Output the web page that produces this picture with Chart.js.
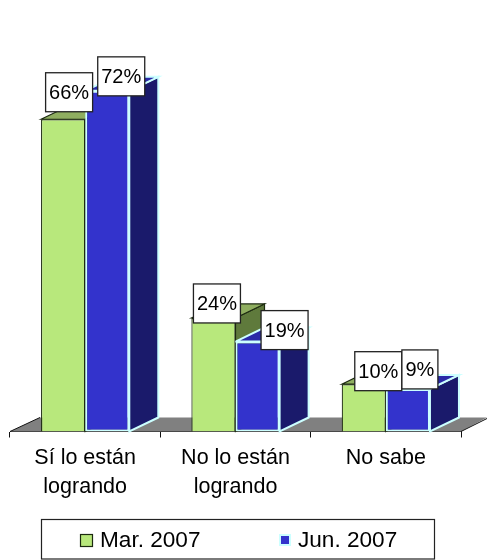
<!DOCTYPE html>
<html lang="es">
<head>
    <meta charset="UTF-8">
    <title>Sí lo están logrando</title>
    <style>
        body { margin: 0; background: white; }
        canvas { display: block; }
    </style>
</head>
<body>
    <canvas id="chart" width="487" height="560"></canvas>
    <script src="https://cdn.jsdelivr.net/npm/chart.js"></script>
    <script>
        const categories = [['Sí lo están', 'logrando'], ['No lo están', 'logrando'], ['No sabe']];
        const seriesNames = ['Mar. 2007', 'Jun. 2007'];
        const marValues = [66, 24, 10];
        const junValues = [72, 19, 9];

        const FONT = '"Liberation Sans", Arial, sans-serif';
        const DEPTH_X = 29;
        const DEPTH_Y = 14;

        // colours of each series: front, top, side, edge
        const faces = [
            { front: '#b8e87c', top: '#8fae60', side: '#5f7a3c', edge: '#1c2a10' },
            { front: '#3333cc', top: '#2a2aa8', side: '#1a1a6b', edge: '#ccffff' }
        ];

        // where each label box sits relative to the top centre of its bar
        const labelShift = [
            [[6, -27], [3.5, -14.5], [14.5, -13]],
            [[14, -14.5], [27, -11.5], [12, -19.5]]
        ];

        function poly(ctx, pts, fill, stroke, lw) {
            ctx.beginPath();
            pts.forEach((p, i) => i ? ctx.lineTo(p[0], p[1]) : ctx.moveTo(p[0], p[1]));
            ctx.closePath();
            ctx.fillStyle = fill;
            ctx.fill();
            if (stroke) {
                ctx.strokeStyle = stroke;
                ctx.lineWidth = lw;
                ctx.stroke();
            }
        }

        const depthPlugin = {
            id: 'depth',
            beforeDatasetsDraw(chart) {
                const ctx = chart.ctx;
                const x = chart.scales.x;
                const base = chart.scales.y.getPixelForValue(0);
                ctx.save();
                // floor
                poly(ctx, [[x.left, base], [x.left + 30, base - 14], [487, base - 14], [x.right, base]], '#808080');
                ctx.strokeStyle = '#111';
                ctx.lineWidth = 1;
                ctx.beginPath();
                ctx.moveTo(x.left + 30, base - 14);
                ctx.lineTo(x.left, base);
                ctx.moveTo(x.right, base);
                ctx.lineTo(487, base - 13);
                ctx.stroke();
                // top and side of every bar
                chart.data.datasets.forEach((ds, i) => {
                    const f = faces[i];
                    const lw = i ? 2 : 1.2;
                    chart.getDatasetMeta(i).data.forEach(bar => {
                        const l = bar.x - bar.width / 2, r = bar.x + bar.width / 2;
                        poly(ctx, [[r, bar.y], [r + DEPTH_X, bar.y - DEPTH_Y], [r + DEPTH_X, bar.base - DEPTH_Y], [r, bar.base]], f.side, f.edge, lw);
                        poly(ctx, [[l, bar.y], [l + DEPTH_X, bar.y - DEPTH_Y], [r + DEPTH_X, bar.y - DEPTH_Y], [r, bar.y]], f.top, f.edge, lw);
                    });
                });
                ctx.restore();
            },
            afterDatasetsDraw(chart) {
                const ctx = chart.ctx;
                ctx.save();
                ctx.font = '20px ' + FONT;
                ctx.textAlign = 'center';
                ctx.textBaseline = 'middle';
                chart.data.datasets.forEach((ds, i) => {
                    chart.getDatasetMeta(i).data.forEach((bar, j) => {
                        const text = ds.data[j] + '%';
                        const w = Math.round(ctx.measureText(text).width) + 7;
                        const cx = bar.x + labelShift[i][j][0];
                        const cy = bar.y + labelShift[i][j][1];
                        ctx.fillStyle = 'white';
                        ctx.strokeStyle = '#222';
                        ctx.lineWidth = 1.3;
                        ctx.fillRect(cx - w / 2, cy - 19.5, w, 39);
                        ctx.strokeRect(cx - w / 2, cy - 19.5, w, 39);
                        ctx.fillStyle = '#000';
                        ctx.fillText(text, cx, cy + 1);
                    });
                });
                ctx.restore();
            },
            afterDraw(chart) {
                // legend box under the plot
                const ctx = chart.ctx;
                ctx.save();
                ctx.strokeStyle = '#222';
                ctx.lineWidth = 1.2;
                ctx.strokeRect(41.5, 519.5, 393, 39.5);
                ctx.font = '22.6px ' + FONT;
                ctx.textBaseline = 'middle';
                ctx.fillStyle = '#000';
                ctx.fillText(seriesNames[0], 100, 541);
                ctx.fillText(seriesNames[1], 298, 541);
                ctx.fillStyle = faces[0].front;
                ctx.strokeStyle = faces[0].edge;
                ctx.fillRect(80.5, 534.5, 12, 12);
                ctx.strokeRect(80.5, 534.5, 12, 12);
                ctx.fillStyle = faces[1].front;
                ctx.strokeStyle = faces[1].edge;
                ctx.lineWidth = 2;
                ctx.fillRect(280, 535, 10, 10);
                ctx.strokeRect(280, 535, 10, 10);
                ctx.restore();
            }
        };

        new Chart(document.getElementById('chart').getContext('2d'), {
            type: 'bar',
            data: {
                labels: categories,
                datasets: [
                    {
                        label: seriesNames[0],
                        data: marValues,
                        backgroundColor: faces[0].front,
                        borderColor: faces[0].edge,
                        borderWidth: 1.2,
                        borderSkipped: 'bottom'
                    },
                    {
                        label: seriesNames[1],
                        data: junValues,
                        backgroundColor: faces[1].front,
                        borderColor: faces[1].edge,
                        borderWidth: 2,
                        borderSkipped: false
                    }
                ]
            },
            options: {
                responsive: false,
                animation: false,
                layout: { padding: { left: 10, right: 26, top: 53, bottom: 0 } },
                datasets: { bar: { categoryPercentage: 0.587, barPercentage: 1 } },
                scales: {
                    x: {
                        afterFit: scale => { scale.height = 128.5; },
                        border: { color: '#111', width: 1 },
                        grid: { drawOnChartArea: false, drawTicks: true, tickLength: 6, color: '#111' },
                        ticks: {
                            color: '#000',
                            padding: 6,
                            maxRotation: 0,
                            font: { family: FONT, size: 21.5, lineHeight: 1.36 }
                        }
                    },
                    y: { display: false, min: 0, max: 80 }
                },
                plugins: {
                    legend: { display: false },
                    tooltip: { enabled: false }
                }
            },
            plugins: [depthPlugin]
        });
    </script>
</body>
</html>
